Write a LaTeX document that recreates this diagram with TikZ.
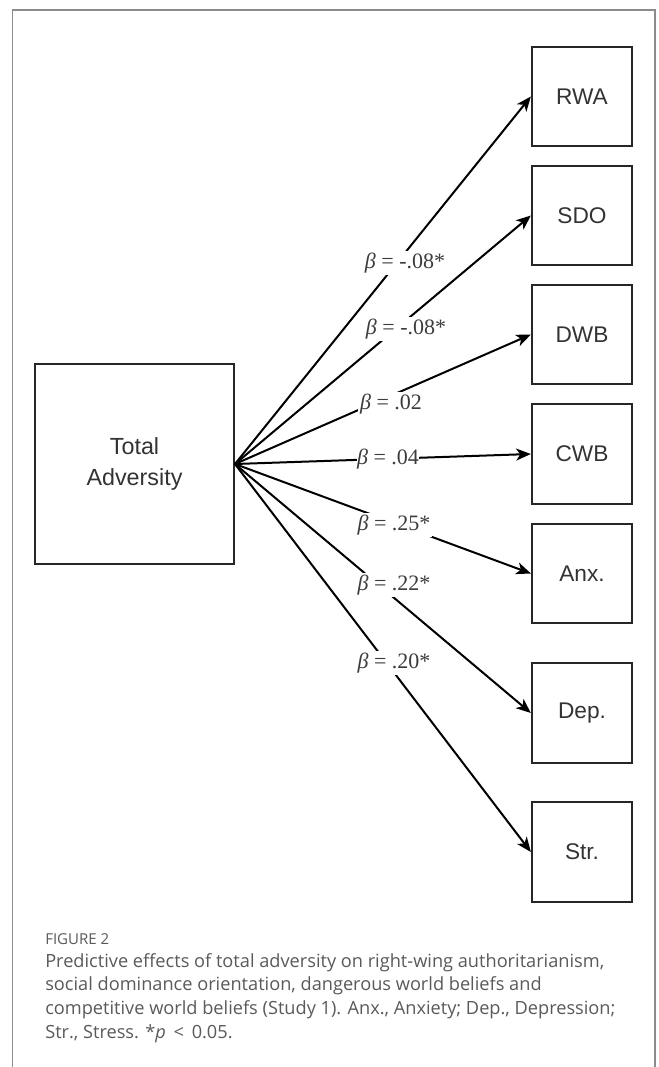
\documentclass[tikz,border=0pt]{standalone}
\usepackage{fontspec}
\setmainfont{Liberation Serif}
\newfontfamily\boxfont{Liberation Sans}
\newfontfamily\capfont{Open Sans}
\usetikzlibrary{arrows.meta}
\definecolor{framegray}{HTML}{8C8C8C}
\definecolor{boxline}{HTML}{262626}
\definecolor{boxtext}{HTML}{333333}
\definecolor{coeftext}{HTML}{3C3C3C}
\definecolor{captext}{HTML}{5A5A5A}
\newlength\caplinewd
\newlength\figlabelwd
\begin{document}
% caption size: first caption line set to 419.25pt, the label to 48pt
\settowidth\caplinewd{\capfont\fontsize{10}{12}\selectfont Predictive effects of total adversity on right-wing authoritarianism,}%
\settowidth\figlabelwd{\capfont\fontsize{10}{12}\selectfont FIGURE 2}%
\pgfmathsetmacro\capsize{10*419.25/\caplinewd}%
\pgfmathsetmacro\figsize{10*48/\figlabelwd}%
\begin{tikzpicture}[x=0.75pt,y=-0.75pt,
  varbox/.style={draw=boxline,line width=1.7pt,minimum width=75pt,minimum height=74.5pt,
    inner sep=0pt,text=boxtext,font=\boxfont\fontsize{17}{20}\selectfont},
  effect/.style={draw=black,line width=1.5pt,-{Stealth[length=11pt,width=9pt,inset=3pt]}},
  coef/.style={fill=white,inner sep=1.2pt,text=coeftext,font=\fontsize{16.5}{18}\selectfont},
  capline/.style={anchor=base west,inner sep=0pt,text=captext,
      font=\capfont\fontsize{\capsize}{14}\selectfont}]

  % page and open frame
  \fill[white] (0,0) rectangle (658,1067);
  \useasboundingbox (0,0) rectangle (658,1067);
  \draw[framegray,line width=1.1pt] (12.5,1067) -- (12.5,10) -- (655,10) -- (655,1067);

  % predictor
  \node[varbox,minimum width=149pt,minimum height=150pt,align=center,
        font=\boxfont\fontsize{17.5}{23}\selectfont] (ta) at (134.5,464) {Total\\Adversity};

  % outcomes
  \node[varbox] (rwa) at (582,96.5)  {RWA};
  \node[varbox] (sdo) at (582,215.5) {SDO};
  \node[varbox] (dwb) at (582,334.5) {DWB};
  \node[varbox] (cwb) at (582,454)   {CWB};
  \node[varbox] (anx) at (582,573.5) {Anx.};
  \node[varbox] (dep) at (582,713)   {Dep.};
  \node[varbox] (str) at (582,852)   {Str.};

  % paths
  \foreach \t in {rwa,sdo,dwb,cwb,anx,dep,str}
    \draw[effect] (ta.east) -- (\t.west);

  % coefficients
  \node[coef] (brwa) at (405,263) {\textit{β} = -.08*};
  \node[coef] (bsdo) at (406,329) {\textit{β} = -.08*};
  \node[coef] (bdwb) at (391,404) {\textit{β} = .02};
  \node[coef,inner sep=0.3pt] (bcwb) at (388,459) {\textit{β} = .04};
  \node[coef] (banx) at (394,525) {\textit{β} = .25*};
  \node[coef] (bdep) at (394,585) {\textit{β} = .22*};
  \node[coef] (bstr) at (394,663) {\textit{β} = .20*};

  % caption
  \node[capline,font=\capfont\fontsize{\figsize}{13}\selectfont] (fig) at (45,944) {FIGURE 2};
  \node[capline] (c1) at (45,967) {Predictive effects of total adversity on right-wing authoritarianism,};
  \node[capline] (c2) at (45,990.5) {social dominance orientation, dangerous world beliefs and};
  \node[capline] (c3) at (45,1014) {competitive world beliefs (Study 1). Anx., Anxiety; Dep., Depression;};
  \node[capline] (c4) at (45,1038) {Str., Stress. *\textit{p} \,<\, 0.05.};
\end{tikzpicture}
\end{document}
